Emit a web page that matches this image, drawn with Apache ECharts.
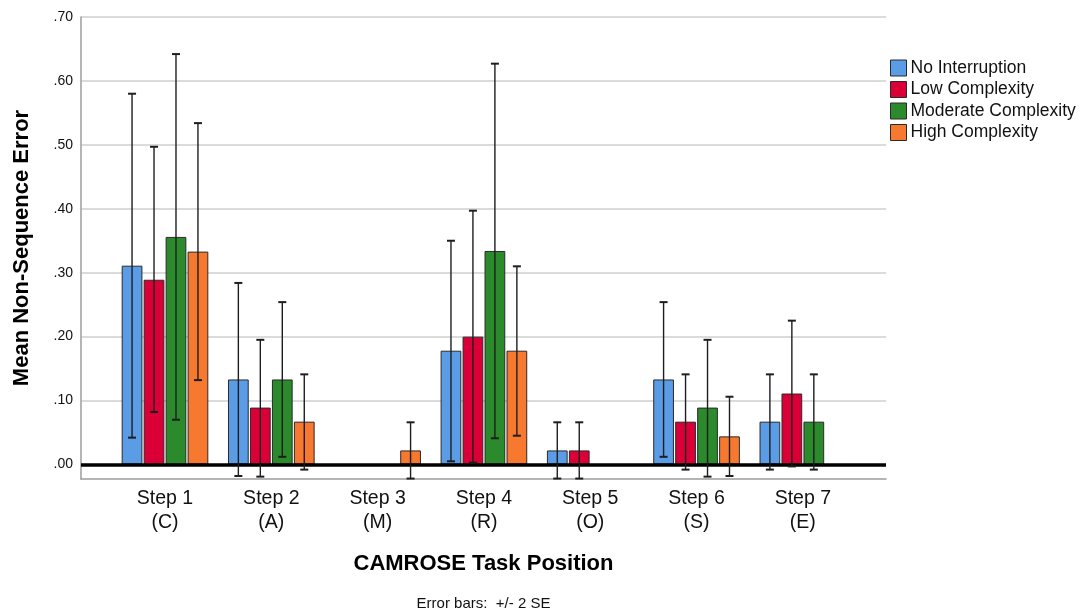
<!DOCTYPE html>
<html>
<head>
<meta charset="utf-8">
<title>Mean Non-Sequence Error by CAMROSE Task Position</title>
<script src="https://cdn.jsdelivr.net/npm/echarts@6/dist/echarts.min.js"></script>
<style>
  html, body { margin: 0; padding: 0; background: #fff; }
  #chart { width: 1089px; height: 611px; }
</style>
</head>
<body>
<div id="chart"></div>
<script>
// Task steps (CAMROSE sequence)
const categories = ['Step 1\n(C)', 'Step 2\n(A)', 'Step 3\n(M)', 'Step 4\n(R)', 'Step 5\n(O)', 'Step 6\n(S)', 'Step 7\n(E)'];

// Interruption conditions
const seriesNames = ['No Interruption', 'Low Complexity', 'Moderate Complexity', 'High Complexity'];

// Mean non-sequence error per step
const noInterruption     = [0.311, 0.133, 0.000, 0.178, 0.022, 0.133, 0.067];
const lowComplexity      = [0.289, 0.089, 0.000, 0.200, 0.022, 0.067, 0.111];
const moderateComplexity = [0.356, 0.133, 0.000, 0.334, 0.000, 0.089, 0.067];
const highComplexity     = [0.333, 0.067, 0.022, 0.178, 0.000, 0.044, 0.000];

// Error bar limits (+/- 2 SE); null where the group has no spread
const noInterruptionLow      = [0.042, -0.018, null, 0.005, -0.022, 0.012, -0.008];
const noInterruptionHigh     = [0.580, 0.284, null, 0.350, 0.066, 0.254, 0.141];
const lowComplexityLow       = [0.082, -0.019, null, 0.003, -0.022, -0.008, -0.003];
const lowComplexityHigh      = [0.497, 0.195, null, 0.397, 0.066, 0.141, 0.225];
const moderateComplexityLow  = [0.070, 0.012, null, 0.041, null, -0.019, -0.008];
const moderateComplexityHigh = [0.642, 0.254, null, 0.627, null, 0.195, 0.141];
const highComplexityLow      = [0.132, -0.008, -0.022, 0.045, null, -0.018, null];
const highComplexityHigh     = [0.534, 0.141, 0.066, 0.310, null, 0.106, null];

// Value axis ticks
const yTicks = [0, 0.1, 0.2, 0.3, 0.4, 0.5, 0.6, 0.7];

const means = [noInterruption, lowComplexity, moderateComplexity, highComplexity];
const lows = [noInterruptionLow, lowComplexityLow, moderateComplexityLow, highComplexityLow];
const highs = [noInterruptionHigh, lowComplexityHigh, moderateComplexityHigh, highComplexityHigh];

const colors = ['#5b9ce6', '#da0037', '#2b8a2b', '#f7782f'];
const FONT = 'Arial, "Liberation Sans", sans-serif';
const Y_MIN = -0.0227;
const Y_MAX = 0.7;
const CAT_GAP = 0.185;
const BAR_GAP = 0.06;
const N = seriesNames.length;

const X_TITLE = 'CAMROSE Task Position';
const NOTE = 'Error bars:  +/- 2 SE';

function fmtTick(v) {
  return v.toFixed(2).replace(/^0/, '');
}

function errorBarRenderer(idx) {
  return function (params, api) {
    const lo = api.value(1);
    const hi = api.value(2);
    if (isNaN(lo) || isNaN(hi)) return null;
    const cat = api.value(0);
    const band = api.size([1, 0])[0];
    const barW = band * (1 - CAT_GAP) / (N + (N - 1) * BAR_GAP);
    const offset = (idx - (N - 1) / 2) * barW * (1 + BAR_GAP);
    const pLo = api.coord([cat, lo]);
    const pHi = api.coord([cat, hi]);
    const x = pLo[0] + offset;
    const cap = 4;
    const style = { stroke: '#1e1e1e', lineWidth: 1.4 };
    const capStyle = { stroke: '#1e1e1e', lineWidth: 2 };
    return {
      type: 'group',
      children: [
        { type: 'line', shape: { x1: x, y1: pLo[1], x2: x, y2: pHi[1] }, style: style },
        { type: 'line', shape: { x1: x - cap, y1: pHi[1], x2: x + cap, y2: pHi[1] }, style: capStyle },
        { type: 'line', shape: { x1: x - cap, y1: pLo[1], x2: x + cap, y2: pLo[1] }, style: capStyle }
      ]
    };
  };
}

const barSeries = seriesNames.map(function (name, i) {
  return {
    name: name,
    type: 'bar',
    xAxisIndex: 1,
    yAxisIndex: 1,
    data: means[i],
    barCategoryGap: (CAT_GAP * 100) + '%',
    barGap: (BAR_GAP * 100) + '%',
    itemStyle: { color: colors[i], borderColor: '#2a2a2a', borderWidth: 1 },
    emphasis: { disabled: true },
    z: 2
  };
});

const errorSeries = seriesNames.map(function (name, i) {
  return {
    name: name + ' error',
    type: 'custom',
    xAxisIndex: 1,
    yAxisIndex: 1,
    renderItem: errorBarRenderer(i),
    encode: { x: 0, y: [1, 2] },
    data: categories.map(function (c, k) {
      return [k, lows[i][k] === null ? '-' : lows[i][k], highs[i][k] === null ? '-' : highs[i][k]];
    }),
    clip: false,
    silent: true,
    z: 5
  };
});

// horizontal centre of the plot frame, used for the footer texts
const PLOT_LEFT = 81;
const PLOT_RIGHT = 886;
const plotCenter = (PLOT_LEFT + PLOT_RIGHT) / 2;
const measureCtx = document.createElement('canvas').getContext('2d');
function textWidth(text, font) {
  measureCtx.font = font;
  return measureCtx.measureText(text).width;
}
const titleW = textWidth(X_TITLE, 'bold 22px ' + FONT);
const noteW = textWidth(NOTE, '15px ' + FONT);

const chart = echarts.init(document.getElementById('chart'), null, { renderer: 'canvas' });

chart.setOption({
  animation: false,
  backgroundColor: '#ffffff',
  textStyle: { fontFamily: FONT },
  legend: {
    orient: 'vertical',
    left: 885,
    top: 54,
    itemWidth: 16,
    itemHeight: 16,
    itemGap: 3.5,
    icon: 'rect',
    data: seriesNames,
    textStyle: { fontFamily: FONT, fontSize: 17.5, lineHeight: 18, color: '#111', padding: [0, 0, 0, -1] },
    itemStyle: { borderColor: '#2a2a2a', borderWidth: 1 },
    selectedMode: false
  },
  grid: [
    // frame with gridlines
    { left: PLOT_LEFT, right: 1089 - PLOT_RIGHT, top: 17, bottom: 132, containLabel: false },
    // bars
    { left: 111.85, right: 233, top: 17, bottom: 132, containLabel: false }
  ],
  xAxis: [
    {
      gridIndex: 0, type: 'value', min: 0, max: 1,
      axisLine: { show: true, onZero: false, lineStyle: { color: '#9c9c9c', width: 1.5 } },
      axisTick: { show: false }, axisLabel: { show: false }, splitLine: { show: false }
    },
    {
      gridIndex: 1, type: 'category', data: categories,
      axisLine: { show: false, onZero: false },
      axisTick: { show: false },
      axisLabel: { fontFamily: FONT, fontSize: 19.5, color: '#111', lineHeight: 24, margin: 8 }
    }
  ],
  yAxis: [
    {
      gridIndex: 0, type: 'value', min: Y_MIN, max: Y_MAX,
      name: 'Mean Non-Sequence Error',
      nameLocation: 'middle',
      nameGap: 48,
      nameTextStyle: { fontFamily: FONT, fontSize: 22, fontWeight: 'bold', color: '#000' },
      axisLine: { show: true, lineStyle: { color: '#9c9c9c', width: 1.5 } },
      axisTick: { show: false, customValues: yTicks },
      axisLabel: { customValues: yTicks, formatter: fmtTick, fontFamily: FONT, fontSize: 14, color: '#111', margin: 8 },
      splitLine: { show: true, lineStyle: { color: '#cfcfcf', width: 1.5 } }
    },
    {
      gridIndex: 1, type: 'value', min: Y_MIN, max: Y_MAX, show: false,
      splitLine: { show: false }
    }
  ],
  graphic: [
    {
      type: 'text', x: plotCenter - titleW / 2, y: 553,
      style: { text: X_TITLE, fontFamily: FONT, fontSize: 22, fontWeight: 'bold', fill: '#000' }
    },
    {
      type: 'text', x: plotCenter - noteW / 2, y: 596,
      style: { text: NOTE, fontFamily: FONT, fontSize: 15, fill: '#111' }
    }
  ],
  series: [
    {
      name: 'baseline',
      type: 'line',
      xAxisIndex: 0,
      yAxisIndex: 0,
      data: [],
      silent: true,
      markLine: {
        silent: true,
        symbol: 'none',
        label: { show: false },
        lineStyle: { color: '#000', width: 3.5, type: 'solid' },
        data: [{ yAxis: 0 }]
      },
      z: 4
    }
  ].concat(barSeries, errorSeries)
});
</script>
</body>
</html>
